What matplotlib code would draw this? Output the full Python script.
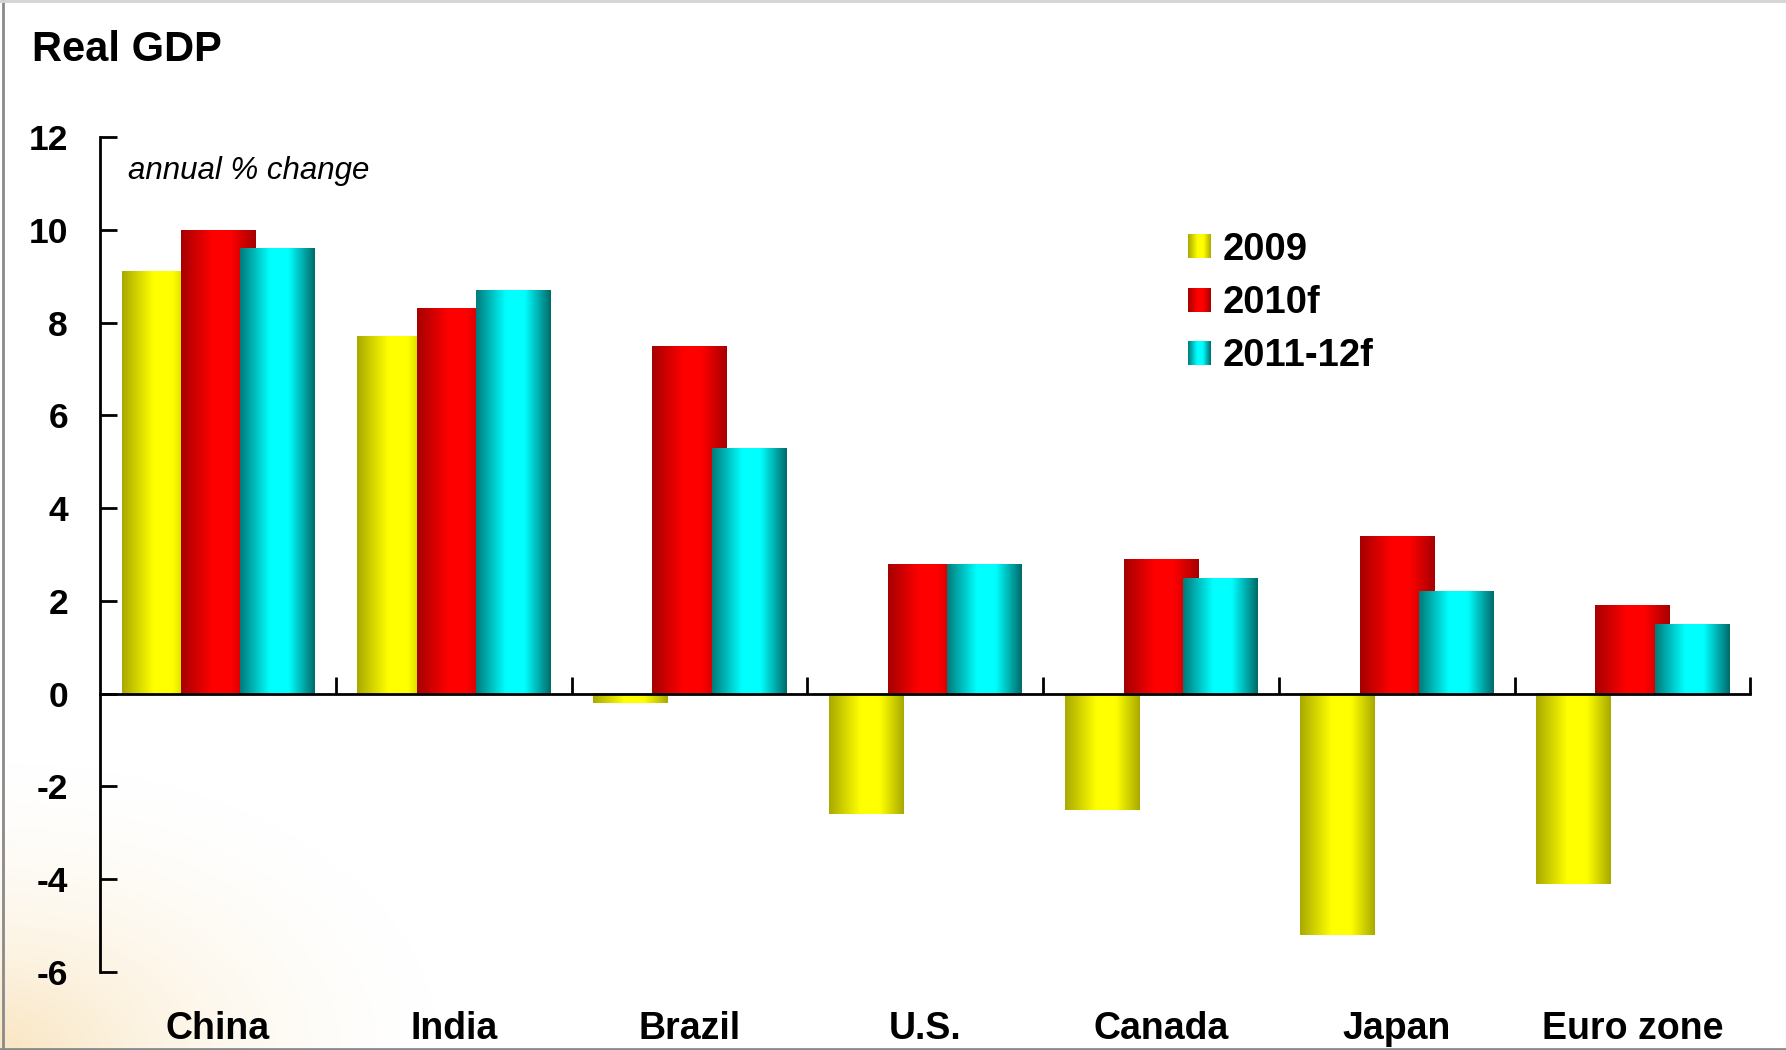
import matplotlib
matplotlib.use('Agg')
import matplotlib.pyplot as plt
import numpy as np
from matplotlib.colors import LinearSegmentedColormap
from matplotlib.lines import Line2D
from matplotlib.transforms import blended_transform_factory

plt.rcParams['font.family'] = ['Liberation Sans', 'DejaVu Sans']

countries = ['China', 'India', 'Brazil', 'U.S.', 'Canada', 'Japan', 'Euro zone']
series = ['2009', '2010f', '2011-12f']
gdp_2009 = [9.1, 7.7, -0.2, -2.6, -2.5, -5.2, -4.1]
gdp_2010 = [10.0, 8.3, 7.5, 2.8, 2.9, 3.4, 1.9]
gdp_2011 = [9.6, 8.7, 5.3, 2.8, 2.5, 2.2, 1.5]
yticks = [-6, -4, -2, 0, 2, 4, 6, 8, 10, 12]

# horizontal shading like the original cylinder-ish bars
cm_yel = LinearSegmentedColormap.from_list('yel', [(0, '#A9A900'), (0.42, '#FFFF00'), (0.68, '#FFFF00'), (1, '#A9A900')])
cm_red = LinearSegmentedColormap.from_list('red', [(0, '#A60000'), (0.42, '#FF0000'), (0.66, '#FF0000'), (1, '#A60000')])
cm_cya = LinearSegmentedColormap.from_list('cya', [(0, '#007A7A'), (0.40, '#00FFFF'), (0.65, '#00FFFF'), (1, '#006A6A')])
grad = np.linspace(0, 1, 256).reshape(1, -1)

fig = plt.figure(figsize=(17.86, 10.50), dpi=100)
fig.patch.set_facecolor('white')

# faint peach glow in the lower-left corner
bg = fig.add_axes([0, 0, 0.3, 0.4], zorder=-5)
bg.axis('off')
yy, xx = np.mgrid[0:1:300j, 0:1:300j]
r = np.sqrt((xx / 0.9) ** 2 + (yy / 0.75) ** 2)
alpha = 0.5 * np.clip(1 - r, 0, 1) ** 2
glow = np.zeros((300, 300, 4))
glow[..., 0] = 0.96
glow[..., 1] = 0.80
glow[..., 2] = 0.52
glow[..., 3] = alpha
bg.imshow(glow, origin='lower', extent=[0, 1, 0, 1], aspect='auto')
bg.set_xlim(0, 1)
bg.set_ylim(0, 1)

ax = fig.add_axes([0.056, 0.0743, 0.924, 0.7952])
ax.set_facecolor('none')

x = np.arange(len(countries))
width = 0.314
offsets = [-0.251, 0.0, 0.251]
for k, (vals, cm) in enumerate([(gdp_2009, cm_yel), (gdp_2010, cm_red), (gdp_2011, cm_cya)]):
    bars = ax.bar(x + offsets[k], vals, width, color='none', edgecolor='none', zorder=3 + k)
    for b in bars:
        x0, y0 = b.get_x(), b.get_y()
        ax.imshow(grad, cmap=cm, extent=[x0, x0 + b.get_width(), y0, y0 + b.get_height()],
                  aspect='auto', interpolation='bicubic', zorder=3 + k)

ax.set_xlim(-0.5, len(countries) - 0.5)
ax.set_ylim(-6, 12)

for s in ['top', 'right']:
    ax.spines[s].set_visible(False)
ax.spines['bottom'].set_position(('data', 0))
ax.spines['bottom'].set_linewidth(2)
ax.spines['bottom'].set_zorder(8)
ax.spines['left'].set_linewidth(2)

ax.set_yticks(yticks)
ax.set_yticklabels([str(t) for t in yticks], fontsize=25.5, fontweight='bold')
ax.tick_params(axis='y', direction='in', length=12, width=2, pad=23)
ax.set_xticks(np.arange(len(countries)) + 0.5)
ax.set_xticklabels([])
ax.tick_params(axis='x', direction='in', length=12, width=2)

# category names sit at the bottom of the slide, not on the zero line
lab_tr = blended_transform_factory(ax.transData, fig.transFigure)
for i, c in enumerate(countries):
    ax.text(i, 0.0105, c, transform=lab_tr, fontsize=27, fontweight='bold',
            ha='center', va='baseline')

fig.text(0.0179, 0.9419, 'Real GDP', fontsize=30, fontweight='bold', ha='left', va='baseline')
fig.text(0.0714, 0.8295, 'annual % change', fontsize=22.5, style='italic', ha='left', va='baseline')

# legend drawn by hand: gradient squares + bold labels
lg = fig.add_axes([0, 0, 1, 1], zorder=10)
lg.axis('off')
base = [0.7524, 0.7019, 0.6514]
for name, cm, yb in zip(series, [cm_yel, cm_red, cm_cya], base):
    sq_h = 24 / 1050
    yc = yb + 13.5 / 1050
    lg.imshow(grad, cmap=cm, extent=[0.6652, 0.6652 + 23 / 1786, yc - sq_h / 2, yc + sq_h / 2],
              aspect='auto', interpolation='bicubic')
    lg.text(0.6848, yb, name, fontsize=27.5, fontweight='bold', ha='left', va='baseline')
lg.set_xlim(0, 1)
lg.set_ylim(0, 1)

# slide frame
fig.add_artist(Line2D([0.0017, 0.0017], [0, 1], transform=fig.transFigure, color='#8a8a8a', lw=2))
fig.add_artist(Line2D([0, 1], [0.999, 0.999], transform=fig.transFigure, color='#d4d4d4', lw=2))
fig.add_artist(Line2D([0, 1], [0.001, 0.001], transform=fig.transFigure, color='#8a8a8a', lw=2))

fig.savefig('out.png', dpi=100)
